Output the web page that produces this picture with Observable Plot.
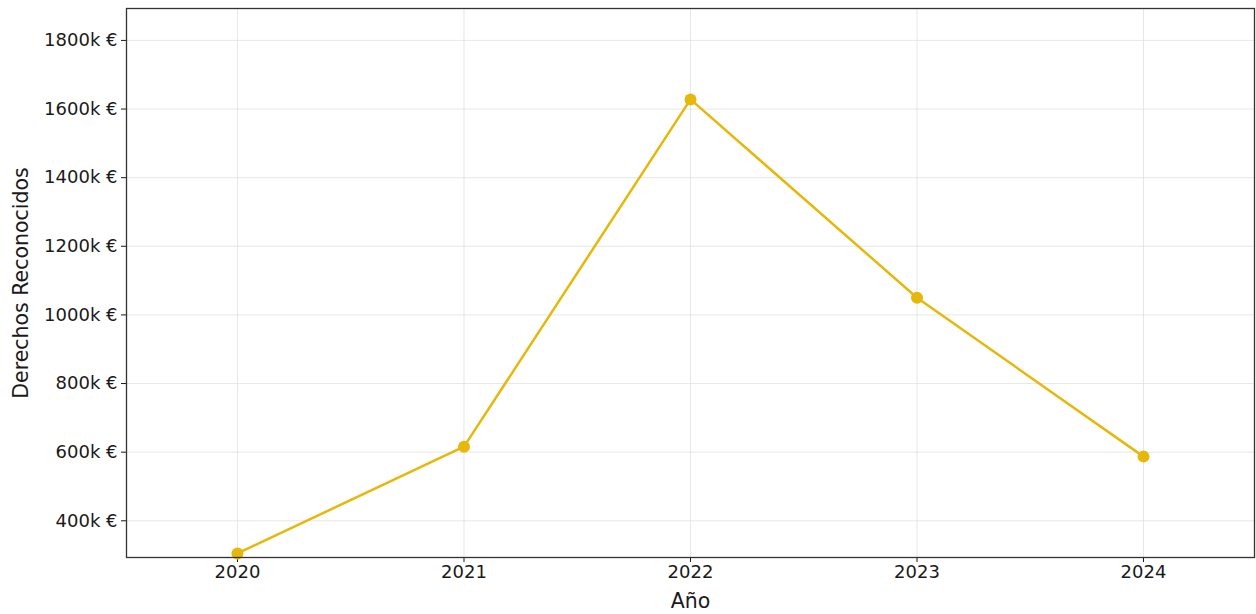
<!DOCTYPE html>
<html>
<head>
<meta charset="utf-8">
<script src="https://cdn.jsdelivr.net/npm/d3@7"></script>
<script src="https://cdn.jsdelivr.net/npm/@observablehq/plot@0.6"></script>
<style>
  html, body { margin: 0; padding: 0; background: #fff; }
  svg g[aria-label="x-axis tick label"] text, svg g[aria-label="y-axis tick label"] text { font-size: 18px; }
  svg g[aria-label="x-axis label"] text, svg g[aria-label="y-axis label"] text { font-size: 20.5px; }
</style>
</head>
<body>
<div id="chart"></div>
<script>
const years = [2020, 2021, 2022, 2023, 2024];
const values = [305, 616, 1628, 1050, 587]; // thousands of €
const yTicks = [400, 600, 800, 1000, 1200, 1400, 1600, 1800];
const xTicks = [2020, 2021, 2022, 2023, 2024];

const data = years.map((y, i) => ({year: y, value: values[i]}));
const color = "#e6b80c";

const chart = Plot.plot({
  width: 1256,
  height: 614,
  marginLeft: 126,
  marginRight: 2,
  marginTop: 8,
  marginBottom: 57,
  style: {fontFamily: "DejaVu Sans, sans-serif", fontSize: "18px", color: "#1a1a1a", background: "#fff"},
  x: {domain: [2019.51, 2024.49], ticks: xTicks, tickFormat: d => String(d), label: null},
  y: {domain: [293, 1893], ticks: yTicks, tickFormat: d => `${d}k €`, label: null},
  marks: [
    Plot.gridX(xTicks, {stroke: "#ddd", strokeOpacity: 0.7, strokeWidth: 1}),
    Plot.gridY(yTicks, {stroke: "#ddd", strokeOpacity: 0.7, strokeWidth: 1}),
    Plot.axisX({ticks: xTicks, tickFormat: d => String(d), tickSize: 5, tickPadding: 3,
      label: "Año", labelAnchor: "center", labelArrow: "none", labelOffset: 50}),
    Plot.axisY({ticks: yTicks, tickFormat: d => `${d}k €`, tickSize: 5, tickPadding: 4,
      label: "Derechos Reconocidos", labelAnchor: "center", labelArrow: "none", labelOffset: 113}),
    Plot.line(data, {x: "year", y: "value", stroke: color, strokeWidth: 2.5}),
    Plot.dot(data, {x: "year", y: "value", fill: color, r: 6}),
    Plot.frame({stroke: "#333", strokeWidth: 1.3})
  ]
});
document.getElementById("chart").appendChild(chart);
</script>
</body>
</html>
